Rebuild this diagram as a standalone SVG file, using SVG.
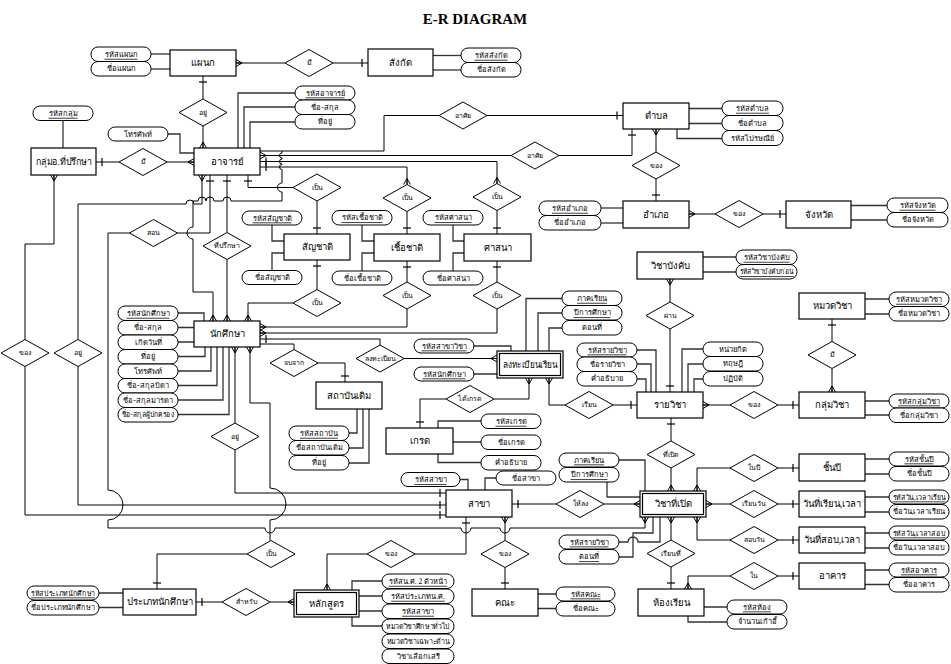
<svg xmlns="http://www.w3.org/2000/svg" width="951" height="664" viewBox="0 0 951 664">
<style>
.e{fill:#fff;stroke:#000;stroke-width:1.2}
.d{fill:#fff;stroke:#000;stroke-width:1}
.a{fill:#fff;stroke:#000;stroke-width:1}
#connectors path{fill:none;stroke:#000;stroke-width:1}
#connectors .al{stroke:#333;stroke-width:1.3}
text{font-family:"Liberation Serif","DejaVu Serif",serif;text-anchor:middle;dominant-baseline:central;fill:#000}
.te{font-size:9.5px}
.td{font-size:7px}
.ta{font-size:7.5px}
.u{text-decoration:underline}
.title{font-size:15px;font-weight:bold}
</style>
<defs>
<marker id="m" markerUnits="userSpaceOnUse" markerWidth="12" markerHeight="12" viewBox="-8 -6 10 12" refX="0" refY="0" orient="auto-start-reverse" overflow="visible"><path d="M-6,0 L0,-3.5 M-6,0 L0,3.5 M-6,0 H0" fill="none" stroke="#000" stroke-width="1"/></marker>
<marker id="o" markerUnits="userSpaceOnUse" markerWidth="12" markerHeight="12" viewBox="-8 -6 10 12" refX="0" refY="0" orient="auto-start-reverse" overflow="visible"><path d="M-6,-4 V4" fill="none" stroke="#000" stroke-width="1.2"/></marker>
</defs>
<rect width="951" height="664" fill="#fff"/>
<text class="title" x="475" y="19">E-R DIAGRAM</text>

<g id="connectors">
<path d="M236,63 H285" marker-start="url(#m)"/>
<path d="M333,63 H368" marker-end="url(#o)"/>
<path d="M203,76 V99" marker-start="url(#o)"/>
<path d="M203,126 V148" marker-end="url(#m)"/>
<path d="M96,162 H119" marker-start="url(#o)"/>
<path d="M167,162 H194" marker-end="url(#m)"/>
<path class="al" d="M295,93 H238 V148"/>
<path class="al" d="M295,107 H244 V148"/>
<path class="al" d="M295,122 H250 V148"/>
<path class="al" d="M168,134 H180 V153 H194"/>
<path class="al" d="M63,120.5 V148"/>
<path class="al" d="M151,54 H170"/>
<path class="al" d="M151,69 H170"/>
<path class="al" d="M433,55.5 H461"/>
<path class="al" d="M433,70 H461"/>
<path d="M260,151 H384 V115.5 H439"/>
<path d="M260,155.5 H511" marker-start="url(#m)"/>
<path d="M260,161.5 H497 V183.5" marker-start="url(#o)" marker-end="url(#m)"/>
<path d="M260,167 H407 V184.5" marker-start="url(#o)" marker-end="url(#m)"/>
<path d="M487,115.5 H623" marker-end="url(#o)"/>
<path d="M559,155.5 H632 V129" marker-end="url(#o)"/>
<path d="M656,129 V152" marker-start="url(#m)"/>
<path d="M656,179 V201" marker-end="url(#o)"/>
<path class="al" d="M689,108.5 H722"/>
<path class="al" d="M689,123.5 H722"/>
<path class="al" d="M677,129 V138.5 H722"/>
<path class="al" d="M601,208 H623"/>
<path class="al" d="M601,223 H623"/>
<path d="M689,214 H715" marker-start="url(#m)"/>
<path d="M763,214 H786" marker-end="url(#o)"/>
<path class="al" d="M851,205.5 H887"/>
<path class="al" d="M851,220 H887"/>
<path d="M202,175 V204 H194 A4,4 0 0 0 186,204 H78 V339.5" marker-start="url(#m)"/>
<path d="M210,175 V233 H177.5" marker-start="url(#o)"/>
<path d="M227,175 V232.5" marker-start="url(#o)"/>
<path d="M227,259.5 V321" marker-end="url(#m)"/>
<path d="M248,175 V187.5 H293" marker-start="url(#o)"/>
<path d="M129.5,233 H108 V490 A15,15 0 0 1 108,520 V528 H265 A5,5 0 0 0 275,528 H461 A5,5 0 0 0 471,528 H500 A5,5 0 0 0 510,528 H645 V517" marker-end="url(#m)"/>
<path d="M213,321 V292 H193 V239 A6,6 0 0 1 193,227 V201 H198 A4,4 0 0 1 206,201 A4,4 0 0 1 214,201 H223 A4,4 0 0 1 231,201 H282 V192 A4.5,4.5 0 0 1 282,183 V169.5 A2.5,2.5 0 0 1 282,164.5 V164 A2.5,2.5 0 0 1 282,159 V158 A2.5,2.5 0 0 1 282,153 V151" marker-start="url(#m)"/>
<path d="M317,201 V234" marker-end="url(#o)"/>
<path d="M317,260 V289.5" marker-start="url(#o)"/>
<path d="M407,211.5 V234" marker-end="url(#o)"/>
<path d="M407,261 V282" marker-start="url(#o)"/>
<path d="M497,210.5 V234" marker-end="url(#o)"/>
<path d="M497,261 V282" marker-start="url(#o)"/>
<path class="al" d="M272,225 V241 H284 M272,270.5 V253 H284"/>
<path class="al" d="M362,225 V241 H374 M362,271 V253 H374"/>
<path class="al" d="M453,225 V241 H464 M453,271 V253 H464"/>
<path d="M248,321 V303 H293" marker-start="url(#m)"/>
<path d="M260,327 H407 V309" marker-start="url(#m)"/>
<path d="M260,333 H497 V309" marker-start="url(#m)"/>
<path d="M260,339 H380 V345" marker-start="url(#o)"/>
<path d="M260,344 H294 V349.5"/>
<path d="M318,363 H345 V382" marker-end="url(#o)"/>
<path class="al" d="M349,433 H357 V409 M349,448 H363 V409 M349,463 H369 V409"/>
<path d="M404,358.5 H497" marker-end="url(#m)"/>
<path class="al" d="M474,346 H511 V351 M474,374 H497 M562,298.5 H526 V351 M562,313 H538 V351 M562,328 H549 V351"/>
<path d="M529,378 V399 H494" marker-start="url(#m)"/>
<path d="M446,399 H420 V428" marker-end="url(#o)"/>
<path d="M549,378 V405 H565" marker-start="url(#m)"/>
<path d="M613,405 H637" marker-end="url(#o)"/>
<path class="al" d="M438,428 V421 H481 M453,442 H481 M438,454 V462.5 H481"/>
<path class="al" d="M178,313 H204 V321 M178,327.5 H194 M178,342 H194 M178,356.5 H205 V347 M178,371 H211 V347 M178,385.5 H217 V347 M178,400 H223 V347 M178,414.5 H229 V347"/>
<path d="M235,347 V423" marker-start="url(#m)"/>
<path d="M235,450 V493 H446" marker-end="url(#o)"/>
<path d="M250,347 V403 H270 V488 A16,16 0 0 1 270,520 V540.5" marker-start="url(#m)"/>
<path d="M247,554 H157 V589" marker-end="url(#o)"/>
<path d="M54,175 V244 H25 V339.5" marker-start="url(#m)"/>
<path d="M25,366.5 V515 H446" marker-end="url(#o)"/>
<path d="M78,366.5 V505 H446" marker-end="url(#o)"/>
<path class="al" d="M460,479.5 H468 V490 M496,478 H485 V490"/>
<path d="M512,504 H556" marker-start="url(#o)"/>
<path d="M604,504 H640" marker-end="url(#m)"/>
<path d="M466,517 V554 H415" marker-start="url(#o)"/>
<path d="M367,554 H327 V590" marker-end="url(#m)"/>
<path d="M505,517 V540.5" marker-start="url(#m)"/>
<path d="M505,567.5 V589" marker-end="url(#o)"/>
<path class="al" d="M538,594 H556 M538,608.5 H556"/>
<path class="al" d="M382,581 H352 V590 M382,596 H359 M382,611 H359 M382,626 H352 V617"/>
<path class="al" d="M99,593 H123 M99,607.5 H123"/>
<path d="M196,602 H222" marker-start="url(#o)"/>
<path d="M270,602 H294" marker-end="url(#m)"/>
<path class="al" d="M637,350 H656 V392 M637,364 H651 V392 M637,379 H646 V392"/>
<path class="al" d="M703,349 H682 V392 M703,364 H688 V392 M703,379 H694 V392"/>
<path d="M670,392 V329" marker-start="url(#o)"/>
<path d="M670,302 V279" marker-end="url(#m)"/>
<path class="al" d="M703,257 H736 M703,272 H736"/>
<path d="M703,405 H730" marker-start="url(#m)"/>
<path d="M778,405 H799" marker-end="url(#o)"/>
<path d="M832,319 V341.5" marker-start="url(#o)"/>
<path d="M832,368.5 V392" marker-end="url(#m)"/>
<path class="al" d="M865,299 H889 M865,314 H889 M865,401 H889 M865,415 H889"/>
<path d="M671,418 V441" marker-start="url(#o)"/>
<path d="M671,468 V491" marker-end="url(#m)"/>
<path class="al" d="M619,460 H645 V491 M607,481.5 V497 H640"/>
<path class="al" d="M619,542 H628 A5,5 0 0 1 638,542 H660 V517 M619,557 H633 V533 H653 V517"/>
<path d="M697,491 V468 H730" marker-start="url(#m)"/>
<path d="M778,468 H799" marker-end="url(#o)"/>
<path d="M706,504 H730" marker-start="url(#m)"/>
<path d="M778,504 H799" marker-end="url(#o)"/>
<path d="M697,517 V540 H730" marker-start="url(#m)"/>
<path d="M778,540 H799" marker-end="url(#o)"/>
<path d="M671,517 V540" marker-start="url(#m)"/>
<path d="M671,567 V589" marker-end="url(#o)"/>
<path d="M688,589 V576 H730" marker-start="url(#m)"/>
<path d="M778,576 H799" marker-end="url(#o)"/>
<path class="al" d="M704,607 H727 M688,616 V622 H727"/>
<path class="al" d="M865,459 H889 M865,474 H889 M865,497 H889 M865,512 H889 M865,533 H889 M865,548 H889 M865,570 H889 M865,584.5 H889"/>
</g>

<g id="entities">
<g id="e-dept"><rect class="e" x="170" y="50" width="66" height="26"/><text class="te" x="203" y="63">แผนก</text></g>
<g id="e-affil"><rect class="e" x="368" y="49" width="65" height="27"/><text class="te" x="400.5" y="62.5">สังกัด</text></g>
<g id="e-tambon"><rect class="e" x="623" y="103" width="66" height="26"/><text class="te" x="656" y="116">ตำบล</text></g>
<g id="e-amphoe"><rect class="e" x="623" y="201" width="66" height="27"/><text class="te" x="656" y="214.5">อำเภอ</text></g>
<g id="e-province"><rect class="e" x="786" y="201" width="65" height="27"/><text class="te" x="818.5" y="214.5">จังหวัด</text></g>
<g id="e-advgroup"><rect class="e" x="31" y="148" width="65" height="27"/><text class="te" x="63.5" y="161.5" textLength="56" lengthAdjust="spacingAndGlyphs">กลุ่มอ.ที่ปรึกษา</text></g>
<g id="e-teacher"><rect class="e" x="194" y="148" width="66" height="27"/><text class="te" x="227" y="161.5">อาจารย์</text></g>
<g id="e-nation"><rect class="e" x="284" y="234" width="66" height="26"/><text class="te" x="317" y="247">สัญชาติ</text></g>
<g id="e-race"><rect class="e" x="374" y="234" width="66" height="27"/><text class="te" x="407" y="247.5">เชื้อชาติ</text></g>
<g id="e-religion"><rect class="e" x="464" y="234" width="67" height="27"/><text class="te" x="497.5" y="247.5">ศาสนา</text></g>
<g id="e-student"><rect class="e" x="194" y="321" width="66" height="26"/><text class="te" x="227" y="334">นักศึกษา</text></g>
<g id="e-school"><rect class="e" x="316" y="382" width="66" height="27"/><text class="te" x="349" y="395.5">สถาบันเดิม</text></g>
<g id="e-register"><rect class="e" x="497" y="351" width="66" height="27"/><rect class="e" x="499.5" y="353.5" width="61" height="22"/><text class="te" x="530" y="364.5" textLength="55" lengthAdjust="spacingAndGlyphs">ลงทะเบียนเรียน</text></g>
<g id="e-grade"><rect class="e" x="386" y="428" width="67" height="26"/><text class="te" x="419.5" y="441">เกรด</text></g>
<g id="e-major"><rect class="e" x="446" y="490" width="66" height="27"/><text class="te" x="479" y="503.5">สาขา</text></g>
<g id="e-prereq"><rect class="e" x="637" y="252" width="66" height="27"/><text class="te" x="670" y="265.5">วิชาบังคับ</text></g>
<g id="e-category"><rect class="e" x="799" y="293" width="66" height="26"/><text class="te" x="832" y="306">หมวดวิชา</text></g>
<g id="e-course"><rect class="e" x="637" y="392" width="66" height="26"/><text class="te" x="670" y="405">รายวิชา</text></g>
<g id="e-coursegroup"><rect class="e" x="799" y="392" width="66" height="26"/><text class="te" x="832" y="405">กลุ่มวิชา</text></g>
<g id="e-offered"><rect class="e" x="640" y="491" width="66" height="26"/><rect class="e" x="642.5" y="493.5" width="61" height="21"/><text class="te" x="673" y="504">วิชาที่เปิด</text></g>
<g id="e-year"><rect class="e" x="799" y="454" width="66" height="27"/><text class="te" x="832" y="467.5">ชั้นปี</text></g>
<g id="e-studytime"><rect class="e" x="799" y="491" width="66" height="26"/><text class="te" x="832" y="504">วันที่เรียน,เวลา</text></g>
<g id="e-examtime"><rect class="e" x="799" y="527" width="66" height="26"/><text class="te" x="832" y="540">วันที่สอบ,เวลา</text></g>
<g id="e-building"><rect class="e" x="799" y="563" width="66" height="26"/><text class="te" x="832" y="576">อาคาร</text></g>
<g id="e-room"><rect class="e" x="638" y="589" width="66" height="27"/><text class="te" x="671" y="602.5">ห้องเรียน</text></g>
<g id="e-faculty"><rect class="e" x="472" y="589" width="66" height="27"/><text class="te" x="505" y="602.5">คณะ</text></g>
<g id="e-curriculum"><rect class="e" x="294" y="590" width="65" height="27"/><rect class="e" x="296.5" y="592.5" width="60" height="22"/><text class="te" x="326.5" y="603.5">หลักสูตร</text></g>
<g id="e-stutype"><rect class="e" x="123" y="589" width="73" height="26"/><text class="te" x="159.5" y="602">ประเภทนักศึกษา</text></g>
</g>

<g id="relationships">
<g id="r-mi1"><polygon class="d" points="285,63 309,49.5 333,63 309,76.5"/><text class="td" x="309" y="63">มี</text></g>
<g id="r-yu1"><polygon class="d" points="179,112.5 203,99 227,112.5 203,126"/><text class="td" x="203" y="112.5">อยู่</text></g>
<g id="r-mi2"><polygon class="d" points="119,162 143,148.5 167,162 143,175.5"/><text class="td" x="143" y="162">มี</text></g>
<g id="r-asai1"><polygon class="d" points="439,115.5 463,102 487,115.5 463,129"/><text class="td" x="463" y="115.5">อาศัย</text></g>
<g id="r-asai2"><polygon class="d" points="511,155.5 535,142 559,155.5 535,169"/><text class="td" x="535" y="155.5">อาศัย</text></g>
<g id="r-khong1"><polygon class="d" points="632,165.5 656,152 680,165.5 656,179"/><text class="td" x="656" y="165.5">ของ</text></g>
<g id="r-khong2"><polygon class="d" points="715,214 739,200.5 763,214 739,227.5"/><text class="td" x="739" y="214">ของ</text></g>
<g id="r-pen1"><polygon class="d" points="293,187.5 317,174 341,187.5 317,201"/><text class="td" x="317" y="187.5">เป็น</text></g>
<g id="r-pen2"><polygon class="d" points="383,198 407,184.5 431,198 407,211.5"/><text class="td" x="407" y="198">เป็น</text></g>
<g id="r-pen3"><polygon class="d" points="473,197 497,183.5 521,197 497,210.5"/><text class="td" x="497" y="197">เป็น</text></g>
<g id="r-son"><polygon class="d" points="129.5,233 153.5,219.5 177.5,233 153.5,246.5"/><text class="td" x="153.5" y="233">สอน</text></g>
<g id="r-advisor"><polygon class="d" points="203,246 227,232.5 251,246 227,259.5"/><text class="td" x="227" y="246">ที่ปรึกษา</text></g>
<g id="r-pen4"><polygon class="d" points="293,303 317,289.5 341,303 317,316.5"/><text class="td" x="317" y="303">เป็น</text></g>
<g id="r-pen5"><polygon class="d" points="383,295.5 407,282 431,295.5 407,309"/><text class="td" x="407" y="295.5">เป็น</text></g>
<g id="r-pen6"><polygon class="d" points="473,295.5 497,282 521,295.5 497,309"/><text class="td" x="497" y="295.5">เป็น</text></g>
<g id="r-khong3"><polygon class="d" points="1,353 25,339.5 49,353 25,366.5"/><text class="td" x="25" y="353">ของ</text></g>
<g id="r-yu2"><polygon class="d" points="54,353 78,339.5 102,353 78,366.5"/><text class="td" x="78" y="353">อยู่</text></g>
<g id="r-jobjak"><polygon class="d" points="270,363 294,349.5 318,363 294,376.5"/><text class="td" x="294" y="363">จบจาก</text></g>
<g id="r-longtabien"><polygon class="d" points="356,358.5 380,345 404,358.5 380,372"/><text class="td" x="380" y="358.5">ลงทะเบียน</text></g>
<g id="r-daigrade"><polygon class="d" points="446,399 470,385.5 494,399 470,412.5"/><text class="td" x="470" y="399">ได้เกรด</text></g>
<g id="r-rian"><polygon class="d" points="565,405 589,391.5 613,405 589,418.5"/><text class="td" x="589" y="405">เรียน</text></g>
<g id="r-phan"><polygon class="d" points="646,315.5 670,302 694,315.5 670,329"/><text class="td" x="670" y="315.5">ผ่าน</text></g>
<g id="r-mi3"><polygon class="d" points="808,355 832,341.5 856,355 832,368.5"/><text class="td" x="832" y="355">มี</text></g>
<g id="r-khong4"><polygon class="d" points="730,405 754,391.5 778,405 754,418.5"/><text class="td" x="754" y="405">ของ</text></g>
<g id="r-tiperd"><polygon class="d" points="647,454.5 671,441 695,454.5 671,468"/><text class="td" x="671" y="454.5">ที่เปิด</text></g>
<g id="r-yu3"><polygon class="d" points="211,436.5 235,423 259,436.5 235,450"/><text class="td" x="235" y="436.5">อยู่</text></g>
<g id="r-hailong"><polygon class="d" points="556,504 580,490.5 604,504 580,517.5"/><text class="td" x="580" y="504">ให้ลง</text></g>
<g id="r-naipi"><polygon class="d" points="730,468 754,454.5 778,468 754,481.5"/><text class="td" x="754" y="468">ในปี</text></g>
<g id="r-rianwan"><polygon class="d" points="730,504 754,490.5 778,504 754,517.5"/><text class="td" x="754" y="504">เรียนวัน</text></g>
<g id="r-sobwan"><polygon class="d" points="730,540 754,526.5 778,540 754,553.5"/><text class="td" x="754" y="540">สอบวัน</text></g>
<g id="r-nai"><polygon class="d" points="730,576 754,562.5 778,576 754,589.5"/><text class="td" x="754" y="576">ใน</text></g>
<g id="r-rianti"><polygon class="d" points="647,553.5 671,540 695,553.5 671,567"/><text class="td" x="671" y="553.5">เรียนที่</text></g>
<g id="r-pen7"><polygon class="d" points="247,554 271,540.5 295,554 271,567.5"/><text class="td" x="271" y="554">เป็น</text></g>
<g id="r-samrab"><polygon class="d" points="222,602 246,588.5 270,602 246,615.5"/><text class="td" x="246" y="602">สำหรับ</text></g>
<g id="r-khong5"><polygon class="d" points="367,554 391,540.5 415,554 391,567.5"/><text class="td" x="391" y="554">ของ</text></g>
<g id="r-khong6"><polygon class="d" points="481,554 505,540.5 529,554 505,567.5"/><text class="td" x="505" y="554">ของ</text></g>
</g>

<g id="attributes">
<g id="a1"><rect class="a" x="91" y="47" width="60" height="14.5" rx="7"/><text class="ta u" x="121" y="54.3">รหัสแผนก</text></g>
<g id="a2"><rect class="a" x="91" y="61.5" width="60" height="14.5" rx="7"/><text class="ta" x="121" y="68.8">ชื่อแผนก</text></g>
<g id="a3"><rect class="a" x="461" y="48" width="60" height="14.5" rx="7"/><text class="ta u" x="491" y="55.3">รหัสสังกัด</text></g>
<g id="a4"><rect class="a" x="461" y="62.5" width="60" height="14.5" rx="7"/><text class="ta" x="491" y="69.8">ชื่อสังกัด</text></g>
<g id="a5"><rect class="a" x="295" y="86" width="60" height="14" rx="7"/><text class="ta u" x="325" y="93">รหัสอาจารย์</text></g>
<g id="a6"><rect class="a" x="295" y="100" width="60" height="14.5" rx="7"/><text class="ta" x="325" y="107.3">ชื่อ-สกุล</text></g>
<g id="a7"><rect class="a" x="295" y="114.5" width="60" height="14.5" rx="7"/><text class="ta" x="325" y="121.8">ที่อยู่</text></g>
<g id="a8"><rect class="a" x="108" y="127" width="60" height="14" rx="7"/><text class="ta" x="138" y="134">โทรศัพท์</text></g>
<g id="a9"><rect class="a" x="33" y="106" width="60" height="14.5" rx="7"/><text class="ta u" x="63" y="113.3">รหัสกลุ่ม</text></g>
<g id="a10"><rect class="a" x="722" y="101" width="61" height="14.5" rx="7"/><text class="ta u" x="752.5" y="108.3">รหัสตำบล</text></g>
<g id="a11"><rect class="a" x="722" y="115.5" width="61" height="15" rx="7"/><text class="ta" x="752.5" y="123">ชื่อตำบล</text></g>
<g id="a12"><rect class="a" x="722" y="130.5" width="61" height="15" rx="7"/><text class="ta" x="752.5" y="138">รหัสไปรษณีย์</text></g>
<g id="a13"><rect class="a" x="539" y="201" width="62" height="14.5" rx="7"/><text class="ta u" x="570" y="208.3">รหัสอำเภอ</text></g>
<g id="a14"><rect class="a" x="539" y="215.5" width="62" height="14.5" rx="7"/><text class="ta" x="570" y="222.8">ชื่ออำเภอ</text></g>
<g id="a15"><rect class="a" x="887" y="198" width="61" height="14.5" rx="7"/><text class="ta u" x="917.5" y="205.3">รหัสจังหวัด</text></g>
<g id="a16"><rect class="a" x="887" y="212.5" width="61" height="14.5" rx="7"/><text class="ta" x="917.5" y="219.8">ชื่อจังหวัด</text></g>
<g id="a17"><rect class="a" x="242" y="211" width="60" height="14" rx="7"/><text class="ta u" x="272" y="218">รหัสสัญชาติ</text></g>
<g id="a18"><rect class="a" x="242" y="270.5" width="60" height="14" rx="7"/><text class="ta" x="272" y="277.5">ชื่อสัญชาติ</text></g>
<g id="a19"><rect class="a" x="332" y="210.5" width="60" height="14.5" rx="7"/><text class="ta u" x="362" y="217.8">รหัสเชื้อชาติ</text></g>
<g id="a20"><rect class="a" x="332" y="271" width="60" height="14" rx="7"/><text class="ta" x="362" y="278">ชื่อเชื้อชาติ</text></g>
<g id="a21"><rect class="a" x="423" y="210.5" width="60" height="14.5" rx="7"/><text class="ta u" x="453" y="217.8">รหัสศาสนา</text></g>
<g id="a22"><rect class="a" x="423" y="271" width="60" height="14" rx="7"/><text class="ta" x="453" y="278">ชื่อศาสนา</text></g>
<g id="a23"><rect class="a" x="118" y="306" width="60" height="14.5" rx="7"/><text class="ta u" x="148" y="313.3">รหัสนักศึกษา</text></g>
<g id="a24"><rect class="a" x="118" y="320.5" width="60" height="14.5" rx="7"/><text class="ta" x="148" y="327.8">ชื่อ-สกุล</text></g>
<g id="a25"><rect class="a" x="118" y="335" width="60" height="14.5" rx="7"/><text class="ta" x="148" y="342.3">เกิดวันที่</text></g>
<g id="a26"><rect class="a" x="118" y="349.5" width="60" height="14.5" rx="7"/><text class="ta" x="148" y="356.8">ที่อยู่</text></g>
<g id="a27"><rect class="a" x="118" y="364" width="60" height="14.5" rx="7"/><text class="ta" x="148" y="371.3">โทรศัพท์</text></g>
<g id="a28"><rect class="a" x="118" y="378.5" width="60" height="14.5" rx="7"/><text class="ta" x="148" y="385.8">ชื่อ-สกุลบิดา</text></g>
<g id="a29"><rect class="a" x="118" y="393" width="60" height="14.5" rx="7"/><text class="ta" x="148" y="400.3">ชื่อ-สกุลมารดา</text></g>
<g id="a30"><rect class="a" x="118" y="407.5" width="60" height="14.5" rx="7"/><text class="ta" x="148" y="414.8" textLength="53" lengthAdjust="spacingAndGlyphs">ชื่อ-สกุลผู้ปกครอง</text></g>
<g id="a31"><rect class="a" x="289" y="426" width="60" height="14.5" rx="7"/><text class="ta u" x="319" y="433.3">รหัสสถาบัน</text></g>
<g id="a32"><rect class="a" x="289" y="440.5" width="60" height="14.5" rx="7"/><text class="ta" x="319" y="447.8">ชื่อสถาบันเดิม</text></g>
<g id="a33"><rect class="a" x="289" y="455.5" width="60" height="14.5" rx="7"/><text class="ta" x="319" y="462.8">ที่อยู่</text></g>
<g id="a34"><rect class="a" x="414" y="339" width="60" height="14" rx="7"/><text class="ta u" x="444" y="346">รหัสสาขาวิชา</text></g>
<g id="a35"><rect class="a" x="414" y="367" width="60" height="14" rx="7"/><text class="ta u" x="444" y="374">รหัสนักศึกษา</text></g>
<g id="a36"><rect class="a" x="562" y="291" width="60" height="14.5" rx="7"/><text class="ta u" x="592" y="298.3">ภาคเรียน</text></g>
<g id="a37"><rect class="a" x="562" y="305.5" width="60" height="14.5" rx="7"/><text class="ta u" x="592" y="312.8">ปีการศึกษา</text></g>
<g id="a38"><rect class="a" x="562" y="320.5" width="60" height="14.5" rx="7"/><text class="ta" x="592" y="327.8">ตอนที่</text></g>
<g id="a39"><rect class="a" x="577" y="343" width="60" height="14" rx="7"/><text class="ta u" x="607" y="350">รหัสรายวิชา</text></g>
<g id="a40"><rect class="a" x="577" y="357" width="60" height="14.5" rx="7"/><text class="ta" x="607" y="364.3">ชื่อรายวิชา</text></g>
<g id="a41"><rect class="a" x="577" y="371.5" width="60" height="14.5" rx="7"/><text class="ta" x="607" y="378.8">คำอธิบาย</text></g>
<g id="a42"><rect class="a" x="703" y="342" width="60" height="14.5" rx="7"/><text class="ta" x="733" y="349.3">หน่วยกิต</text></g>
<g id="a43"><rect class="a" x="703" y="356.5" width="60" height="14.5" rx="7"/><text class="ta" x="733" y="363.8">ทฤษฎี</text></g>
<g id="a44"><rect class="a" x="703" y="371.5" width="60" height="14.5" rx="7"/><text class="ta" x="733" y="378.8">ปฏิบัติ</text></g>
<g id="a45"><rect class="a" x="736" y="250" width="61" height="14.5" rx="7"/><text class="ta u" x="766.5" y="257.3">รหัสวิชาบังคับ</text></g>
<g id="a46"><rect class="a" x="736" y="264.5" width="61" height="14.5" rx="7"/><text class="ta u" x="766.5" y="271.8" textLength="54" lengthAdjust="spacingAndGlyphs">รหัสวิชาบังคับก่อน</text></g>
<g id="a47"><rect class="a" x="889" y="292" width="60" height="14.5" rx="7"/><text class="ta u" x="919" y="299.3">รหัสหมวดวิชา</text></g>
<g id="a48"><rect class="a" x="889" y="306.5" width="60" height="14.5" rx="7"/><text class="ta" x="919" y="313.8">ชื่อหมวดวิชา</text></g>
<g id="a49"><rect class="a" x="889" y="394" width="60" height="14" rx="7"/><text class="ta u" x="919" y="401">รหัสกลุ่มวิชา</text></g>
<g id="a50"><rect class="a" x="889" y="408" width="60" height="14.5" rx="7"/><text class="ta" x="919" y="415.3">ชื่อกลุ่มวิชา</text></g>
<g id="a51"><rect class="a" x="481" y="414" width="60" height="14.5" rx="7"/><text class="ta u" x="511" y="421.3">รหัสเกรด</text></g>
<g id="a52"><rect class="a" x="481" y="435" width="60" height="14.5" rx="7"/><text class="ta" x="511" y="442.3">ชื่อเกรด</text></g>
<g id="a53"><rect class="a" x="481" y="455.5" width="60" height="14.5" rx="7"/><text class="ta" x="511" y="462.8">คำอธิบาย</text></g>
<g id="a54"><rect class="a" x="401" y="472.5" width="59" height="14" rx="7"/><text class="ta u" x="430.5" y="479.5">รหัสสาขา</text></g>
<g id="a55"><rect class="a" x="496" y="471" width="60" height="14" rx="7"/><text class="ta" x="526" y="478">ชื่อสาขา</text></g>
<g id="a56"><rect class="a" x="559" y="453" width="60" height="14" rx="7"/><text class="ta u" x="589" y="460">ภาคเรียน</text></g>
<g id="a57"><rect class="a" x="559" y="467.5" width="60" height="14.5" rx="7"/><text class="ta u" x="589" y="474.8">ปีการศึกษา</text></g>
<g id="a58"><rect class="a" x="559" y="535" width="60" height="14" rx="7"/><text class="ta u" x="589" y="542">รหัสรายวิชา</text></g>
<g id="a59"><rect class="a" x="559" y="549.5" width="60" height="14.5" rx="7"/><text class="ta u" x="589" y="556.8">ตอนที่</text></g>
<g id="a60"><rect class="a" x="889" y="452" width="60" height="14" rx="7"/><text class="ta u" x="919" y="459">รหัสชั้นปี</text></g>
<g id="a61"><rect class="a" x="889" y="466.5" width="60" height="14.5" rx="7"/><text class="ta" x="919" y="473.8">ชื่อชั้นปี</text></g>
<g id="a62"><rect class="a" x="889" y="490" width="60" height="14" rx="7"/><text class="ta u" x="919" y="497" textLength="53" lengthAdjust="spacingAndGlyphs">รหัสวัน,เวลาเรียน</text></g>
<g id="a63"><rect class="a" x="889" y="504.5" width="60" height="14.5" rx="7"/><text class="ta" x="919" y="511.8" textLength="53" lengthAdjust="spacingAndGlyphs">ชื่อวัน,เวลาเรียน</text></g>
<g id="a64"><rect class="a" x="889" y="526" width="60" height="14" rx="7"/><text class="ta u" x="919" y="533" textLength="53" lengthAdjust="spacingAndGlyphs">รหัสวัน,เวลาสอบ</text></g>
<g id="a65"><rect class="a" x="889" y="540.5" width="60" height="14.5" rx="7"/><text class="ta" x="919" y="547.8">ชื่อวัน,เวลาสอบ</text></g>
<g id="a66"><rect class="a" x="889" y="563" width="60" height="14" rx="7"/><text class="ta u" x="919" y="570">รหัสอาคาร</text></g>
<g id="a67"><rect class="a" x="889" y="577.5" width="60" height="14.5" rx="7"/><text class="ta" x="919" y="584.8">ชื่ออาคาร</text></g>
<g id="a68"><rect class="a" x="727" y="600" width="60" height="14" rx="7"/><text class="ta u" x="757" y="607">รหัสห้อง</text></g>
<g id="a69"><rect class="a" x="727" y="614.5" width="60" height="14.5" rx="7"/><text class="ta" x="757" y="621.8">จำนวนเก้าอี้</text></g>
<g id="a70"><rect class="a" x="556" y="587" width="59" height="14" rx="7"/><text class="ta u" x="585.5" y="594">รหัสคณะ</text></g>
<g id="a71"><rect class="a" x="556" y="601.5" width="59" height="14.5" rx="7"/><text class="ta" x="585.5" y="608.8">ชื่อคณะ</text></g>
<g id="a72"><rect class="a" x="382" y="574" width="72" height="14.5" rx="7"/><text class="ta u" x="418" y="581.3">รหัสน.ศ. 2 ตัวหน้า</text></g>
<g id="a73"><rect class="a" x="382" y="589" width="72" height="14.5" rx="7"/><text class="ta u" x="418" y="596.3">รหัสประเภทน.ศ.</text></g>
<g id="a74"><rect class="a" x="382" y="604" width="72" height="14.5" rx="7"/><text class="ta u" x="418" y="611.3">รหัสสาขา</text></g>
<g id="a75"><rect class="a" x="382" y="619" width="72" height="14.5" rx="7"/><text class="ta" x="418" y="626.3" textLength="64" lengthAdjust="spacingAndGlyphs">หมวดวิชาศึกษาทั่วไป</text></g>
<g id="a76"><rect class="a" x="382" y="634" width="72" height="14.5" rx="7"/><text class="ta" x="418" y="641.3" textLength="63" lengthAdjust="spacingAndGlyphs">หมวดวิชาเฉพาะด้าน</text></g>
<g id="a77"><rect class="a" x="382" y="649" width="72" height="14.5" rx="7"/><text class="ta" x="418" y="656.3">วิชาเลือกเสรี</text></g>
<g id="a78"><rect class="a" x="27" y="586" width="72" height="14" rx="7"/><text class="ta u" x="63" y="593" textLength="64" lengthAdjust="spacingAndGlyphs">รหัสประเภทนักศึกษา</text></g>
<g id="a79"><rect class="a" x="27" y="600.5" width="72" height="14.5" rx="7"/><text class="ta" x="63" y="607.8" textLength="64" lengthAdjust="spacingAndGlyphs">ชื่อประเภทนักศึกษา</text></g>
</g>
</svg>
